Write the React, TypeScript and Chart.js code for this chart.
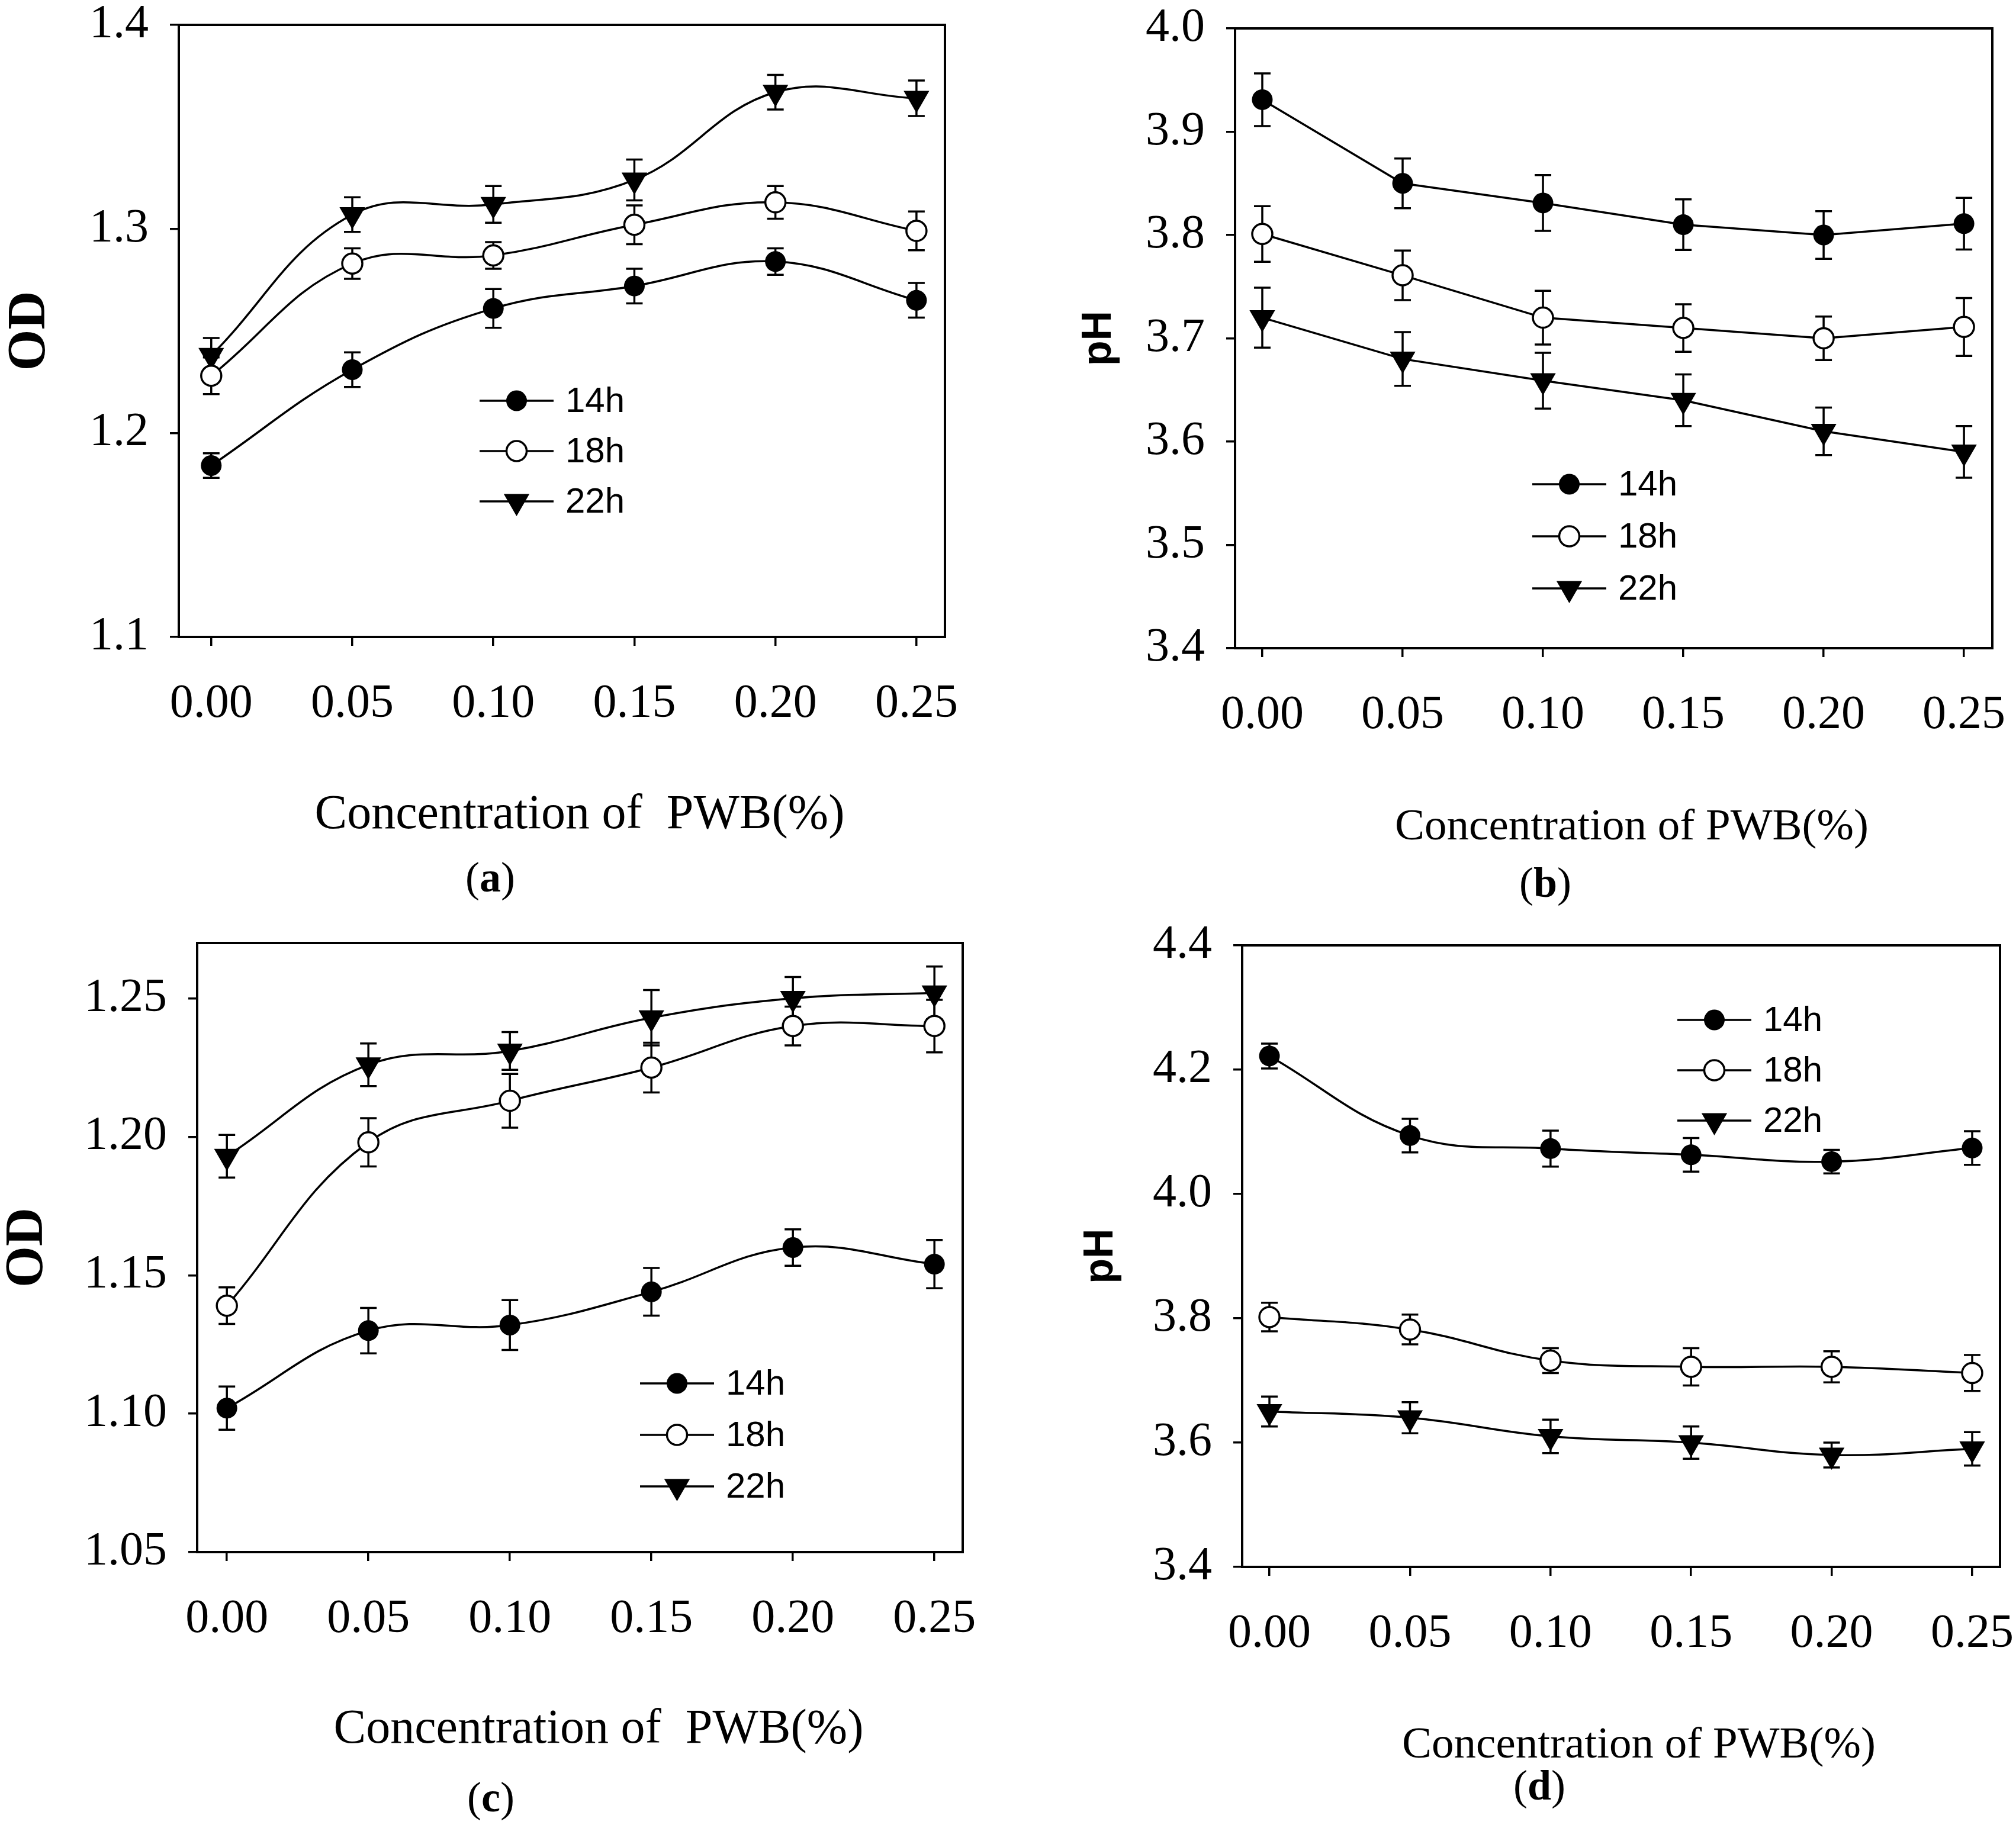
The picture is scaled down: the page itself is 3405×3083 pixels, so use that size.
import React, { useRef, useEffect } from "react";
import { Chart, registerables } from "chart.js";

Chart.register(...registerables);

// shared x values / ticks
const concentration = [0, 0.05, 0.1, 0.15, 0.2, 0.25];
const xTicks = [0, 0.05, 0.1, 0.15, 0.2, 0.25];
const seriesNames = ["14h", "18h", "22h"];

// (a) OD
const odA14h = [1.184, 1.231, 1.261, 1.272, 1.284, 1.265];
const odA18h = [1.228, 1.283, 1.287, 1.302, 1.313, 1.299];
const odA22h = [1.238, 1.307, 1.312, 1.324, 1.367, 1.364];
const odA14hErr = [0.006, 0.0085, 0.0095, 0.0085, 0.0065, 0.0085];
const odA18hErr = [0.009, 0.0075, 0.0065, 0.0095, 0.008, 0.0095];
const odA22hErr = [0.0085, 0.0085, 0.009, 0.01, 0.0085, 0.0087];
const odATicks = [1.1, 1.2, 1.3, 1.4];

// (b) pH
const phB14h = [3.931, 3.85, 3.831, 3.81, 3.8, 3.811];
const phB18h = [3.801, 3.761, 3.72, 3.71, 3.7, 3.711];
const phB22h = [3.72, 3.68, 3.659, 3.64, 3.61, 3.59];
const phB14hErr = [0.0255, 0.024, 0.027, 0.0245, 0.023, 0.025];
const phB18hErr = [0.027, 0.024, 0.026, 0.023, 0.021, 0.028];
const phB22hErr = [0.029, 0.026, 0.027, 0.025, 0.023, 0.025];
const phBTicks = [3.4, 3.5, 3.6, 3.7, 3.8, 3.9, 4.0];

// (c) OD
const odC14h = [1.102, 1.13, 1.132, 1.144, 1.16, 1.154];
const odC18h = [1.139, 1.198, 1.213, 1.225, 1.24, 1.24];
const odC22h = [1.193, 1.226, 1.231, 1.243, 1.25, 1.252];
const odC14hErr = [0.0078, 0.0082, 0.009, 0.0086, 0.0066, 0.0087];
const odC18hErr = [0.0066, 0.0087, 0.0097, 0.009, 0.007, 0.0095];
const odC22hErr = [0.0077, 0.0077, 0.0068, 0.01, 0.0077, 0.0095];
const odCTicks = [1.05, 1.1, 1.15, 1.2, 1.25];

// (d) pH
const phD14h = [4.222, 4.094, 4.073, 4.063, 4.052, 4.074];
const phD18h = [3.802, 3.782, 3.732, 3.722, 3.722, 3.712];
const phD22h = [3.65, 3.64, 3.61, 3.6, 3.58, 3.59];
const phD14hErr = [0.02, 0.027, 0.029, 0.027, 0.019, 0.027];
const phD18hErr = [0.023, 0.024, 0.02, 0.03, 0.025, 0.029];
const phD22hErr = [0.024, 0.025, 0.027, 0.026, 0.02, 0.027];
const phDTicks = [3.4, 3.6, 3.8, 4.0, 4.2, 4.4];

const SERIF = "'Liberation Serif', 'Times New Roman', serif";
const SANS = "'Liberation Sans', Arial, sans-serif";
const LINE_W = 3.5;

const markers = [
  { style: "circle", radius: 17.5, fill: "#000", border: 0, rotation: 0 },
  { style: "circle", radius: 17, fill: "#fff", border: 3.5, rotation: 0 },
  { style: "triangle", radius: 25, fill: "#000", border: 0, rotation: 180 },
];

function drawMarker(ctx: CanvasRenderingContext2D, i: number, x: number, y: number) {
  const m = markers[i];
  ctx.save();
  ctx.fillStyle = m.fill;
  ctx.strokeStyle = "#000";
  ctx.lineWidth = m.border;
  ctx.beginPath();
  if (m.style === "triangle") {
    const r = m.radius;
    ctx.moveTo(x, y + r);
    ctx.lineTo(x - r * 0.866, y - r * 0.5);
    ctx.lineTo(x + r * 0.866, y - r * 0.5);
    ctx.closePath();
  } else {
    ctx.arc(x, y, m.radius, 0, Math.PI * 2);
  }
  ctx.fill();
  if (m.border > 0) ctx.stroke();
  ctx.restore();
}

type PanelSpec = {
  x: number;
  y: number;
  w: number;
  h: number;
  padding: { left: number; top: number; right: number; bottom: number };
  yAxisWidth: number;
  xMin: number;
  xMax: number;
  yMin: number;
  yMax: number;
  yTicks: number[];
  yDigits: number;
  yTitle: string;
  yTitleFont: { family: string; size: number; weight: string };
  series: number[][];
  errors: number[][];
  tension: number;
  legend: { x: number; y: number; gap: number };
};

const panels: PanelSpec[] = [
  {
    x: 0, y: 0, w: 1700, h: 1540,
    padding: { left: 7, top: 42, right: 104, bottom: 264 },
    yAxisWidth: 295,
    xMin: -0.0115, xMax: 0.2601,
    yMin: 1.1, yMax: 1.4, yTicks: odATicks, yDigits: 1,
    yTitle: "OD", yTitleFont: { family: SERIF, size: 90, weight: "bold" },
    series: [odA14h, odA18h, odA22h],
    errors: [odA14hErr, odA18hErr, odA22hErr],
    tension: 0.4,
    legend: { x: 508, y: 635, gap: 85 },
  },
  {
    x: 1700, y: 0, w: 1705, h: 1540,
    padding: { left: 122, top: 48, right: 40, bottom: 245 },
    yAxisWidth: 264,
    xMin: -0.0097, xMax: 0.2601,
    yMin: 3.4, yMax: 4.0, yTicks: phBTicks, yDigits: 1,
    yTitle: "pH", yTitleFont: { family: SANS, size: 70, weight: "bold" },
    series: [phB14h, phB18h, phB22h],
    errors: [phB14hErr, phB18hErr, phB22hErr],
    tension: 0,
    legend: { x: 502, y: 770, gap: 88 },
  },
  {
    x: 0, y: 1540, w: 1700, h: 1543,
    padding: { left: 3, top: 53, right: 74, bottom: 261 },
    yAxisWidth: 330,
    xMin: -0.0105, xMax: 0.26,
    yMin: 1.05, yMax: 1.27, yTicks: odCTicks, yDigits: 2,
    yTitle: "OD", yTitleFont: { family: SERIF, size: 90, weight: "bold" },
    series: [odC14h, odC18h, odC22h],
    errors: [odC14hErr, odC18hErr, odC22hErr],
    tension: 0.4,
    legend: { x: 748, y: 744, gap: 87 },
  },
  {
    x: 1700, y: 1540, w: 1705, h: 1543,
    padding: { left: 125, top: 57, right: 27, bottom: 236 },
    yAxisWidth: 273,
    xMin: -0.0097, xMax: 0.2599,
    yMin: 3.4, yMax: 4.4, yTicks: phDTicks, yDigits: 1,
    yTitle: "pH", yTitleFont: { family: SANS, size: 70, weight: "bold" },
    series: [phD14h, phD18h, phD22h],
    errors: [phD14hErr, phD18hErr, phD22hErr],
    tension: 0.4,
    legend: { x: 735, y: 126, gap: 85 },
  },
];

const captions = [
  { text: "Concentration of  PWB(%)", cx: 979, baseline: 1400, size: 82 },
  { text: "Concentration of PWB(%)", cx: 2756, baseline: 1418, size: 75 },
  { text: "Concentration of  PWB(%)", cx: 1011, baseline: 2945, size: 82 },
  { text: "Concentration of PWB(%)", cx: 2768, baseline: 2969, size: 75 },
];

const panelTags = [
  { letter: "a", cx: 828, cy: 1488 },
  { letter: "b", cx: 2610, cy: 1497 },
  { letter: "c", cx: 829, cy: 3042 },
  { letter: "d", cx: 2600, cy: 3022 },
];

const Panel = ({ spec }: { spec: PanelSpec }) => {
  const canvasRef = useRef<HTMLCanvasElement | null>(null);

  useEffect(() => {
    const canvas = canvasRef.current;
    if (!canvas) return;

    const frame = {
      id: "frame",
      beforeDatasetsDraw(chart: any) {
        const { ctx, chartArea } = chart;
        ctx.save();
        ctx.strokeStyle = "#000";
        ctx.lineWidth = 4;
        ctx.strokeRect(chartArea.left, chartArea.top, chartArea.right - chartArea.left, chartArea.bottom - chartArea.top);
        ctx.restore();
      },
    };

    const errorBars = {
      id: "errorBars",
      beforeDatasetsDraw(chart: any) {
        const { ctx, scales } = chart;
        const cap = 14;
        ctx.save();
        ctx.strokeStyle = "#000";
        ctx.lineWidth = LINE_W;
        chart.data.datasets.forEach((ds: any) => {
          ds.data.forEach((p: any, j: number) => {
            const e = ds.errors[j];
            const px = scales.x.getPixelForValue(p.x);
            const top = scales.y.getPixelForValue(p.y + e);
            const bot = scales.y.getPixelForValue(p.y - e);
            ctx.beginPath();
            ctx.moveTo(px, top);
            ctx.lineTo(px, bot);
            ctx.moveTo(px - cap, top);
            ctx.lineTo(px + cap, top);
            ctx.moveTo(px - cap, bot);
            ctx.lineTo(px + cap, bot);
            ctx.stroke();
          });
        });
        ctx.restore();
      },
    };

    const legendBox = {
      id: "legendBox",
      afterDraw(chart: any) {
        const { ctx, chartArea } = chart;
        const len = 125;
        ctx.save();
        ctx.font = `60px ${SANS}`;
        ctx.fillStyle = "#000";
        ctx.textBaseline = "middle";
        seriesNames.forEach((name, i) => {
          const x0 = chartArea.left + spec.legend.x;
          const y0 = chartArea.top + spec.legend.y + i * spec.legend.gap;
          ctx.strokeStyle = "#000";
          ctx.lineWidth = LINE_W;
          ctx.beginPath();
          ctx.moveTo(x0, y0);
          ctx.lineTo(x0 + len, y0);
          ctx.stroke();
          drawMarker(ctx, i, x0 + len / 2, y0);
          ctx.fillText(name, x0 + len + 20, y0 + 2);
        });
        ctx.restore();
      },
    };

    const tickGrid = {
      display: true,
      drawOnChartArea: false,
      drawTicks: true,
      tickLength: 15,
      color: "#000",
      lineWidth: LINE_W,
    };

    const chart = new Chart(canvas, {
      type: "line",
      data: {
        datasets: spec.series.map((vals, i) => ({
          label: seriesNames[i],
          data: concentration.map((c, j) => ({ x: c, y: vals[j] })),
          errors: spec.errors[i],
          borderColor: "#000",
          borderWidth: LINE_W,
          tension: spec.tension,
          fill: false,
          pointStyle: markers[i].style,
          pointRadius: markers[i].radius,
          pointRotation: markers[i].rotation,
          pointBackgroundColor: markers[i].fill,
          pointBorderColor: "#000",
          pointBorderWidth: markers[i].border,
          clip: false,
        })) as any,
      },
      options: {
        animation: false,
        responsive: false,
        events: [],
        layout: { padding: spec.padding },
        plugins: {
          legend: { display: false },
          tooltip: { enabled: false },
        },
        scales: {
          x: {
            type: "linear",
            min: spec.xMin,
            max: spec.xMax,
            afterBuildTicks: (s: any) => {
              s.ticks = xTicks.map((v) => ({ value: v }));
            },
            afterFit: (s: any) => {
              s.height = 200;
              s.paddingLeft = 0;
              s.paddingRight = 0;
            },
            grid: tickGrid,
            border: { display: false },
            ticks: {
              color: "#000",
              font: { family: SERIF, size: 80, lineHeight: 1 },
              padding: 59,
              maxRotation: 0,
              autoSkip: false,
              callback: (v: any) => Number(v).toFixed(2),
            },
          },
          y: {
            type: "linear",
            min: spec.yMin,
            max: spec.yMax,
            afterBuildTicks: (s: any) => {
              s.ticks = spec.yTicks.map((v) => ({ value: v }));
            },
            afterFit: (s: any) => {
              s.width = spec.yAxisWidth;
              s.paddingTop = 0;
              s.paddingBottom = 0;
            },
            grid: tickGrid,
            border: { display: false },
            ticks: {
              color: "#000",
              font: { family: SERIF, size: 80, lineHeight: 1 },
              padding: 36,
              autoSkip: false,
              callback: (v: any) => Number(v).toFixed(spec.yDigits),
            },
            title: {
              display: true,
              text: spec.yTitle,
              color: "#000",
              padding: 0,
              font: { ...spec.yTitleFont, lineHeight: 1 } as any,
            },
          },
        },
      },
      plugins: [frame, errorBars, legendBox],
    });

    return () => {
      chart.destroy();
    };
  }, [spec]);

  return (
    <canvas
      ref={canvasRef}
      width={spec.w}
      height={spec.h}
      style={{ position: "absolute", left: spec.x, top: spec.y, width: spec.w, height: spec.h }}
    />
  );
};

const App = () => {
  return (
    <div
      style={{
        position: "absolute",
        left: 0,
        top: 0,
        width: 3405,
        height: 3083,
        background: "#fff",
        overflow: "hidden",
      }}
    >
      {panels.map((p, i) => (
        <Panel key={i} spec={p} />
      ))}
      {captions.map((c, i) => (
        <div
          key={"cap" + i}
          style={{
            position: "absolute",
            left: c.cx - 700,
            width: 1400,
            top: c.baseline - 0.8375 * c.size,
            fontFamily: SERIF,
            fontSize: c.size,
            lineHeight: `${c.size}px`,
            textAlign: "center",
            whiteSpace: "pre",
            color: "#000",
          }}
        >
          {c.text}
        </div>
      ))}
      {panelTags.map((t, i) => (
        <div
          key={"tag" + i}
          style={{
            position: "absolute",
            left: t.cx - 200,
            width: 400,
            top: t.cy + 18 - 0.8375 * 72,
            fontFamily: SERIF,
            fontSize: 72,
            lineHeight: "72px",
            textAlign: "center",
            color: "#000",
          }}
        >
          (<b>{t.letter}</b>)
        </div>
      ))}
    </div>
  );
};

export default App;
